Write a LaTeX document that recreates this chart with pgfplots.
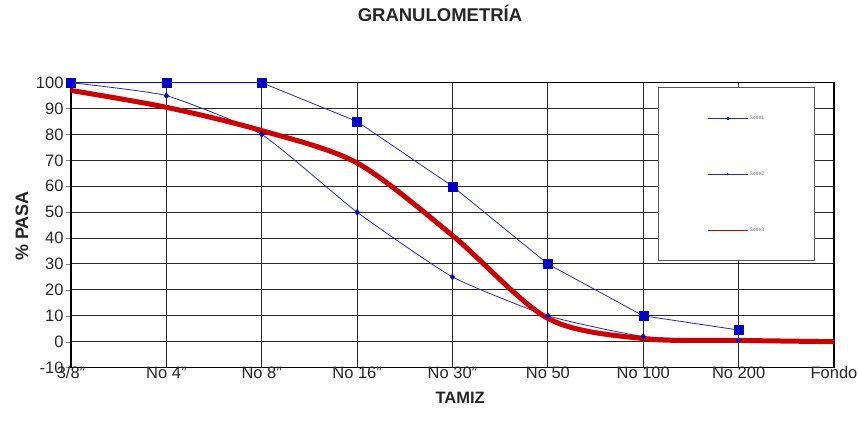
\documentclass[border=0pt]{standalone}
\usepackage{pgfplots}
\pgfplotsset{compat=1.18}
\usepackage{fontspec}
\setmainfont{Liberation Sans}
\definecolor{serblue}{RGB}{40,40,170}
\definecolor{mkblue}{RGB}{0,0,200}
\definecolor{serred}{RGB}{204,0,0}
\begin{document}
\begin{tikzpicture}
\begin{axis}[
  scale only axis,
  width=763pt, height=284.9pt,
  xmin=0, xmax=8, ymin=-10, ymax=100,
  xtick={0,...,8},
  xticklabels={3/8",No 4",No 8",No 16",No 30",No 50,No 100,No 200,Fondo},
  ytick={-10,0,10,...,100},
  /pgf/number format/assume math mode=true,
  tick label style={font=\fontsize{16.5}{18}\selectfont, text=black!85},
  xticklabel style={anchor=center, yshift=0pt},
  yticklabel style={xshift=1pt},
  major x tick style={draw=none},
  ytick pos=left, tick align=outside, major tick length=5pt,
  grid=major,
  major grid style={black!85, line width=1pt},
  extra y ticks={0}, extra y tick labels={},
  extra y tick style={grid style={black!55, line width=3pt}, major tick length=0pt},
  axis line style={black, line width=1.1pt},
  title={GRANULOMETRÍA},
  title style={at={(0.4836,1.222)}, anchor=center, font=\bfseries\fontsize{18.5}{20}\selectfont, text=black!85},
  xlabel={TAMIZ},
  xlabel style={at={(0.51,-0.107)}, anchor=center, font=\bfseries\fontsize{16.5}{18}\selectfont, text=black!85},
  ylabel={\% PASA},
  ylabel style={at={(-0.0642,0.497)}, anchor=center, rotate=0, font=\bfseries\fontsize{18}{20}\selectfont, text=black!85},
  legend style={at={(0.769,0.985)}, anchor=north west, draw=black!65, line width=1.5pt,
    font=\fontsize{5}{6}\selectfont, minimum width=156pt, minimum height=173pt,
    nodes={minimum width=0pt, minimum height=0pt, inner sep=1.5pt, line width=0.6pt, text=black!60},
    row sep=48pt, fill=white},
  legend cell align=left,
  legend image code/.code={\draw[#1, line width=0.9pt, mark size=0.8pt, mark repeat=2, mark phase=2] plot coordinates {(0pt,0pt) (20pt,0pt) (40pt,0pt)};},
]
\addplot[serblue, line width=0.8pt, mark=square*, mark size=4.5pt, mark options={fill=mkblue, draw=mkblue, line width=0.4pt}]
  coordinates {(0,100) (1,100) (2,100) (3,85) (4,60) (5,30) (6,10) (7,4.5)};
\addlegendentry{Serie1}
\addplot[serblue, line width=0.8pt, smooth, tension=0.3, mark=diamond*, mark size=3pt, mark options={fill=mkblue, draw=mkblue, line width=0.4pt}]
  coordinates {(0,100) (1,95) (2,80) (3,50) (4,25) (5,10) (6,2) (7,0.5)};
\addlegendentry{Serie2}
\addplot[serred, line width=5pt, smooth, tension=0.5]
  coordinates {(0,97) (1,90.5) (2,81.5) (3,69) (4,41) (5,9) (6,1.2) (7,0.5) (8,0)};
\addlegendentry{Serie3}
\end{axis}
\pgfresetboundingbox
\path[use as bounding box] ([xshift=-71pt,yshift=-70.4pt]current axis.south west) rectangle ++(859pt,438pt);
\end{tikzpicture}
\end{document}
